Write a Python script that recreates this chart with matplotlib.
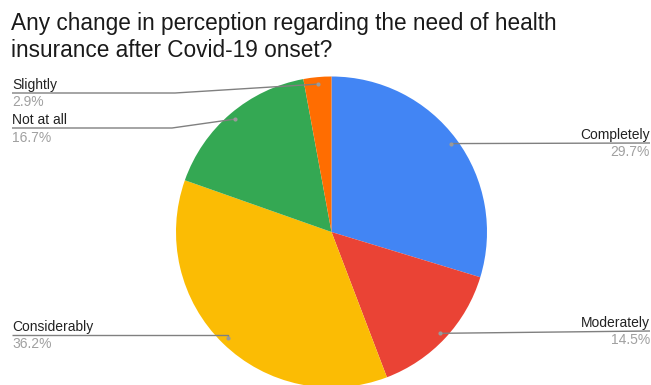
import numpy as np
import matplotlib
matplotlib.use('Agg')
import matplotlib.pyplot as plt

# dados do gráfico (sentido horário a partir do topo)
categorias = ['Completely', 'Moderately', 'Considerably', 'Not at all', 'Slightly']
percentuais = [29.7, 14.5, 36.2, 16.7, 2.9]
cores = ['#4285F4', '#EA4335', '#FBBC04', '#34A853', '#FF6D01']
titulo = ['Any change in perception regarding the need of health',
          'insurance after Covid-19 onset?']

# layout em pixels (origem embaixo à esquerda)
W, H = 651, 385
centro = (331.5, H - 232)
raio = 155.5
# lado do rótulo, altura da linha (px a partir do topo), x do cotovelo
lado = ['right', 'right', 'left', 'left', 'left']
linha_y = [143, 331, 335, 128, 93]
cotovelo = [None, None, None, 172, 175]

plt.rcParams['font.family'] = ['Liberation Sans', 'DejaVu Sans']

fig = plt.figure(figsize=(W / 100, H / 100), dpi=100)
ax = fig.add_axes([0, 0, 1, 1])

wedges, _ = ax.pie(percentuais, colors=cores, startangle=90, counterclock=False,
                   center=centro, radius=raio, wedgeprops=dict(linewidth=0))
ax.set_xlim(0, W)
ax.set_ylim(0, H)
ax.set_aspect('equal')
ax.axis('off')

cinza_linha = '#808080'
for w, nome, pct, l, ly, cx in zip(wedges, categorias, percentuais, lado, linha_y, cotovelo):
    ang = np.deg2rad((w.theta1 + w.theta2) / 2)
    px = centro[0] + 0.955 * raio * np.cos(ang)
    py = centro[1] + 0.955 * raio * np.sin(ang)
    y = H - ly
    if l == 'left':
        xs = [px, cx if cx else px, 12]
        ys = [py, y, y]
        tx, ha = 12, 'left'
    else:
        xs = [px, 650]
        ys = [py, y]
        tx, ha = 650, 'right'
    ax.plot(xs, ys, color=cinza_linha, lw=1, solid_capstyle='butt')
    ax.plot(px, py, 'o', color='#9a9a9a', ms=3, mec='none')
    ax.text(tx, y + 1.5, nome, ha=ha, va='bottom', fontsize=10, color='#222222')
    ax.text(tx, y - 2.5, f'{pct:.1f}%', ha=ha, va='top', fontsize=10, color='#a0a0a0')

ax.text(11, H - 30, titulo[0], ha='left', va='baseline', fontsize=16.3, color='#1a1a1a')
ax.text(11, H - 57, titulo[1], ha='left', va='baseline', fontsize=16.3, color='#1a1a1a')

fig.savefig('out.png', dpi=100, facecolor='white')
